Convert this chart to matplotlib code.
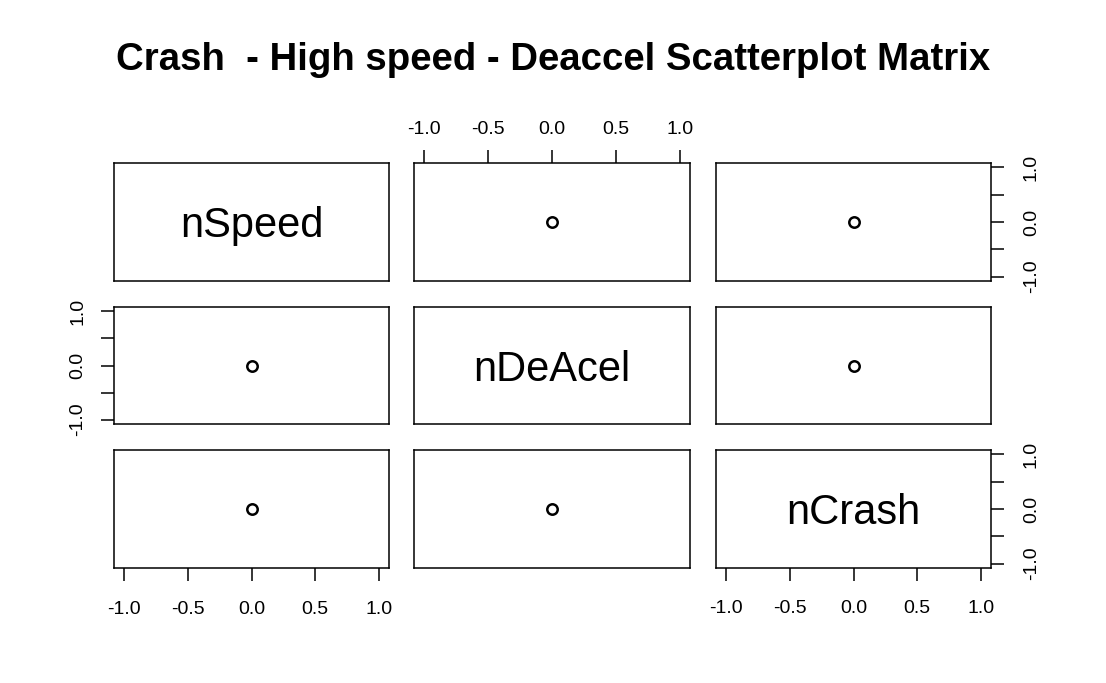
import matplotlib
matplotlib.use("Agg")
from matplotlib import pyplot as plt

# 数据：三个变量（都为0）
names = ["nSpeed", "nDeAcel", "nCrash"]
nSpeed = [0.0]
nDeAcel = [0.0]
nCrash = [0.0]
data = [nSpeed, nDeAcel, nCrash]
ticks = [-1.0, -0.5, 0.0, 0.5, 1.0]
x_labels = ["-1.0", "-0.5", "0.0", "0.5", "1.0"]
y_labels = ["-1.0", "", "0.0", "", "1.0"]

plt.rcParams["font.family"] = ["Liberation Sans", "DejaVu Sans"]

W, H = 1106, 683
fig = plt.figure(figsize=(W / 100, H / 100), dpi=100)

cols = [(114, 389), (414, 690), (716, 991)]
rows = [(163, 281), (307, 424), (450, 568)]

fig.text(553 / W, 1 - 70 / H, "Crash  - High speed - Deaccel Scatterplot Matrix",
         ha="center", va="baseline", fontsize=27.6, fontweight="bold")

for i in range(3):
    for j in range(3):
        x0, x1 = cols[j]
        y0, y1 = rows[i]
        ax = fig.add_axes([x0 / W, 1 - y1 / H, (x1 - x0) / W, (y1 - y0) / H])
        ax.set_xlim(-1.08, 1.08)
        ax.set_ylim(-1.08, 1.08)
        for s in ax.spines.values():
            s.set_linewidth(1.1)
        if i == j:
            ax.text(0, -0.28, names[i], ha="center", va="baseline", fontsize=30)
        else:
            ax.plot(data[j], data[i], "o", mfc="none", mec="black", ms=7.5, mew=1.8)

        ax.set_xticks(ticks)
        ax.set_xticklabels(x_labels, fontsize=14)
        ax.set_yticks(ticks)
        ax.set_yticklabels(y_labels, rotation=90, va="center", fontsize=14)
        ax.tick_params(length=9.5, width=1.1, pad=11.5,
                       bottom=False, top=False, left=False, right=False,
                       labelbottom=False, labeltop=False, labelleft=False, labelright=False)

        # R pairs() 的轴布局
        if i == 0 and j == 1:
            ax.tick_params(top=True, labeltop=True, pad=8.5)
        if i == 2 and j in (0, 2):
            ax.tick_params(bottom=True, labelbottom=True, pad=14.5)
        if j == 2 and i in (0, 2):
            ax.tick_params(right=True, labelright=True, pad=13.5)
        if j == 0 and i == 1:
            ax.tick_params(left=True, labelleft=True, pad=10.5)

fig.savefig("out.png", dpi=100)
